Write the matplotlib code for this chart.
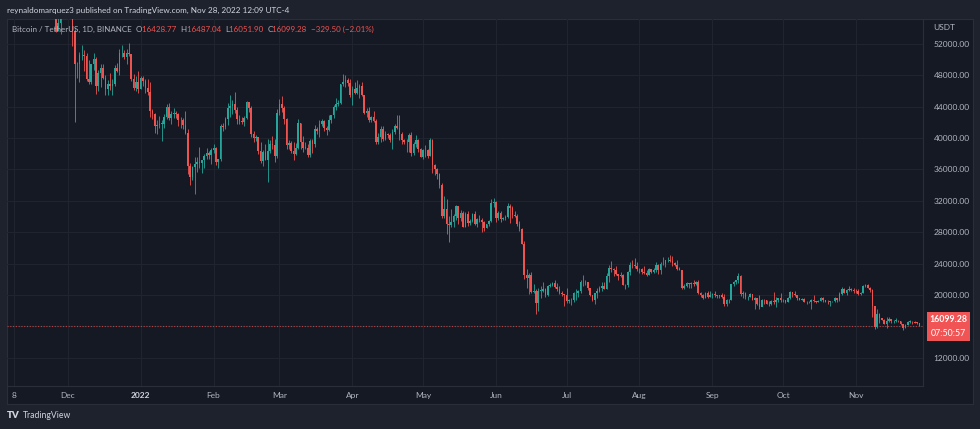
import matplotlib
matplotlib.use("Agg")
import matplotlib.pyplot as plt
import matplotlib.dates as mdates
import numpy as np
import pandas as pd
from matplotlib.patches import Rectangle

# ---------------- data (BTC/USDT daily, Binance) ----------------
first_open = 61400

close_2021_11 = [61000, 61500, 63300, 67550, 66950, 64880, 64800, 64150, 64400, 65500, 63600, 60100, 60350, 56900, 58100, 59700, 58650, 56300, 57550, 57150, 58950, 53700, 54700, 57300, 57800, 56950]
high_2021_11 = [62600, 61900, 63300, 67800, 68500, 69000, 65600, 65000, 65000, 65950, 66300, 63650, 61000, 60900, 58350, 59850, 60000, 59250, 57900, 57900, 59400, 59200, 55300, 57400, 58850, 59200]
low_2021_11 = [60700, 60700, 61400, 63300, 66300, 62800, 64100, 62300, 63400, 63600, 63400, 58600, 58600, 56500, 55600, 57400, 58500, 55600, 55300, 55950, 57000, 53500, 53600, 53300, 56700, 55900]

close_2021_12 = [57200, 56500, 53600, 49400, 49400, 50600, 50600, 50500, 47600, 47150, 49400, 50100, 46700, 48350, 48900, 47650, 46200, 46850, 46700, 46900, 48900, 48600, 50800, 50800, 50400, 50800, 50700, 47550, 46450, 47150, 46200]
high_2021_12 = [59100, 57400, 57600, 53900, 49700, 51000, 51900, 51200, 50800, 50000, 49500, 50800, 50300, 48700, 49500, 49450, 48000, 47350, 48300, 47550, 49300, 49600, 51400, 51850, 51200, 51300, 52100, 50700, 48150, 47900, 48550]
low_2021_12 = [56400, 55800, 51700, 42000, 47700, 47100, 50000, 48600, 47300, 46850, 46900, 48650, 45650, 46000, 46500, 47500, 45450, 45500, 46100, 45550, 46600, 48450, 48050, 50400, 50150, 49450, 50450, 47300, 46100, 46000, 45700]

close_2022_01 = [47700, 47300, 46450, 45850, 43450, 43100, 41550, 41700, 41850, 41850, 42750, 43950, 42600, 43100, 43200, 43100, 42250, 42350, 41700, 40700, 36450, 35050, 36280, 36700, 36950, 36850, 37200, 37700, 38150, 37900, 38500]
high_2022_01 = [47950, 47950, 47550, 47500, 47100, 43750, 43150, 42300, 42800, 42250, 43100, 44350, 44450, 43450, 43800, 43450, 43200, 42700, 42550, 43500, 41100, 36850, 36500, 37550, 37550, 38900, 37250, 38000, 38700, 38350, 38750]
low_2022_01 = [46200, 46650, 45700, 45500, 42650, 42450, 40600, 40500, 41250, 39650, 41300, 42500, 42300, 41750, 42600, 42600, 41550, 41250, 41150, 40550, 35450, 34000, 34600, 32900, 35700, 36250, 35500, 36200, 37350, 37300, 36650]

close_2022_02 = [38750, 36900, 37300, 41550, 41400, 42400, 43850, 44050, 44400, 43550, 42400, 42200, 42050, 42550, 44550, 43900, 40500, 40000, 40100, 38400, 37050, 38250, 37250, 38350, 39250, 39150, 37700, 43200]
high_2022_02 = [39250, 38900, 37400, 41750, 41950, 42650, 44500, 45500, 44800, 45850, 43950, 43000, 42750, 42850, 44750, 44600, 44150, 40950, 40450, 40150, 39500, 38450, 39300, 39850, 39700, 40300, 39900, 43750]
low_2022_02 = [38050, 36600, 36250, 37100, 40950, 41100, 41650, 42650, 43100, 43200, 41750, 41750, 41800, 41550, 42450, 43350, 40100, 39450, 39650, 38000, 36800, 36400, 37150, 34350, 38050, 38600, 37000, 37450]

close_2022_03 = [44400, 43900, 42450, 39150, 39400, 38400, 37990, 38750, 41950, 39450, 38750, 38800, 37800, 39650, 39300, 41150, 40950, 41750, 42200, 41300, 41000, 42350, 42900, 43950, 44350, 44500, 46850, 47150, 47450, 47050, 45550]
high_2022_03 = [44950, 45400, 44100, 42550, 39700, 39650, 39450, 39350, 42400, 41950, 40250, 39500, 39300, 39900, 39900, 41700, 41450, 42350, 42400, 42300, 41550, 43000, 43000, 44250, 45100, 44800, 46950, 48200, 48100, 47700, 47600]
low_2022_03 = [43000, 43350, 41850, 38650, 38600, 38100, 37150, 37850, 38650, 38550, 38250, 38650, 37600, 37550, 38100, 38900, 40500, 40150, 41550, 40950, 40450, 40900, 41900, 42550, 43600, 44100, 44400, 46600, 46550, 46600, 45200]

close_2022_04 = [46300, 45800, 46450, 46600, 45500, 43200, 43450, 42250, 42750, 42150, 39500, 40100, 41150, 39950, 40550, 40400, 39700, 40800, 41500, 41350, 40500, 39700, 39450, 39450, 40400, 38100, 39250, 39750, 38600, 37650]
high_2022_04 = [46700, 47200, 47450, 46900, 47200, 45500, 43900, 43950, 42800, 43400, 42400, 40700, 41550, 41500, 40900, 40700, 40600, 41100, 41750, 42950, 42950, 40800, 39950, 39950, 40600, 40800, 39450, 40350, 39950, 38800]
low_2022_04 = [44200, 45600, 45600, 45100, 45350, 43100, 42750, 42100, 42100, 42050, 39200, 39300, 39550, 39600, 39800, 40000, 39550, 38550, 40550, 41100, 39750, 39200, 39300, 38200, 38200, 37700, 37900, 38850, 38200, 37600]

close_2022_05 = [38450, 38500, 37700, 39700, 36550, 36000, 35450, 34050, 30100, 31000, 29100, 28950, 29300, 30100, 31300, 29850, 30450, 28700, 30300, 29200, 29450, 30300, 29100, 29650, 29550, 29250, 28600, 29000, 29450, 31700, 31800]
high_2022_05 = [38650, 39150, 38650, 40000, 39850, 36650, 36150, 35500, 34250, 32650, 32200, 30050, 30950, 30300, 31450, 31300, 30800, 30700, 30550, 30750, 29650, 30450, 30650, 29850, 30200, 29850, 29400, 29100, 29550, 32200, 32400]
low_2022_05 = [37400, 37650, 37500, 37700, 35600, 35250, 34750, 33700, 29750, 29750, 27800, 26700, 28700, 28650, 29500, 29100, 29450, 28650, 28700, 28750, 28950, 29250, 28900, 28650, 29300, 28000, 28200, 28550, 28850, 29250, 31200]

close_2022_06 = [29800, 30450, 29700, 29850, 29900, 31350, 31100, 30200, 30100, 29100, 28400, 26550, 22500, 22150, 22600, 20400, 20450, 19000, 20550, 20550, 20700, 19990, 21100, 21250, 21500, 21050, 20750, 20250, 20100, 19950]
high_2022_06 = [31950, 30650, 30700, 29950, 30200, 31750, 31550, 31350, 30700, 30350, 29450, 28550, 26900, 23350, 22800, 22950, 21350, 20800, 20850, 21100, 21700, 20900, 21250, 21500, 21600, 21850, 21550, 21200, 20450, 20150]
low_2022_06 = [29350, 29600, 29250, 29500, 29500, 29750, 29200, 29850, 29950, 28850, 28100, 26500, 22000, 20850, 20100, 20250, 20250, 17600, 17950, 19650, 20350, 19750, 19900, 21000, 21100, 20950, 20500, 20150, 19850, 18650]

close_2022_07 = [19250, 19300, 19300, 20200, 20200, 20550, 21600, 21600, 21600, 20850, 19950, 19300, 20200, 20550, 20850, 21200, 20800, 22450, 23400, 23250, 23150, 22700, 22450, 22600, 21300, 21250, 22950, 23850, 23800, 23650, 23300]
high_2022_07 = [20850, 19450, 19650, 20350, 20750, 20650, 21850, 22500, 21950, 21650, 20850, 20050, 20250, 20900, 21200, 21600, 21650, 22800, 23800, 24300, 23450, 23750, 22650, 22950, 22650, 21350, 23100, 24200, 24450, 24650, 24200]
low_2022_07 = [18950, 18950, 18750, 19050, 19300, 19750, 20250, 21200, 21300, 20650, 19850, 19250, 18900, 19650, 20400, 20500, 20750, 20750, 21600, 22900, 22400, 22550, 21950, 22250, 21250, 20700, 21050, 22600, 23450, 23400, 23050]

close_2022_08 = [23250, 22950, 22800, 22600, 23300, 22950, 23200, 23800, 23150, 23950, 23950, 24400, 24450, 24300, 24100, 23850, 23350, 23200, 20850, 21150, 21500, 21400, 21550, 21350, 21600, 20250, 20050, 19550, 20300, 19800, 20050]
high_2022_08 = [23500, 23450, 23650, 23200, 23450, 23350, 23400, 24250, 23950, 24200, 24900, 24450, 24900, 25050, 24950, 24250, 24450, 23600, 23200, 21400, 21700, 21500, 21700, 21900, 21800, 21900, 20350, 20150, 20400, 20550, 20500]
low_2022_08 = [22850, 22650, 22700, 22400, 22600, 22850, 22850, 22900, 22650, 22700, 23850, 23600, 24250, 24250, 23700, 23700, 23200, 23150, 20800, 20750, 21050, 20900, 20900, 21150, 21300, 20100, 19800, 19500, 19550, 19550, 19750]

close_2022_09 = [20150, 19950, 19850, 19990, 19800, 18800, 19300, 19320, 21350, 21650, 21850, 22400, 20150, 20250, 19700, 19800, 20100, 19400, 19550, 18900, 18500, 19400, 19300, 18900, 18800, 19200, 19100, 19400, 19600, 19400]
high_2022_09 = [20200, 20450, 20000, 20050, 20200, 20150, 19450, 19450, 21450, 21800, 21850, 22800, 22500, 20550, 20400, 19900, 20200, 20150, 19700, 19650, 19950, 19500, 19500, 19300, 19200, 19350, 20400, 19800, 19650, 20200]
low_2022_09 = [19600, 19750, 19650, 19650, 19650, 18650, 18550, 19000, 19300, 21100, 21350, 21550, 19850, 19650, 19500, 19350, 19750, 19350, 18250, 18750, 18150, 18550, 18800, 18850, 18650, 18700, 18800, 18500, 19100, 19150]

close_2022_10 = [19300, 19050, 19600, 20350, 20150, 19950, 19550, 19400, 19450, 19150, 19050, 19150, 19400, 19200, 19070, 19250, 19550, 19330, 19120, 19050, 19170, 19200, 19570, 19330, 20090, 20770, 20290, 20600, 20810, 20630, 20490]
high_2022_10 = [19500, 19400, 19700, 20450, 20350, 20450, 20050, 19600, 19550, 19550, 19250, 19250, 19500, 19950, 19250, 19400, 19700, 19700, 19350, 19350, 19250, 19250, 19700, 19600, 20400, 21000, 20850, 20750, 21100, 20950, 20850]
low_2022_10 = [19150, 18950, 19050, 19500, 19750, 19850, 19350, 19300, 19300, 19050, 18850, 18950, 18200, 19100, 18950, 19050, 19200, 19100, 19050, 18900, 18650, 19100, 19050, 19150, 19250, 20050, 20200, 20000, 20550, 20500, 20250]

close_2022_11 = [20480, 20150, 20210, 21150, 21300, 20900, 20600, 18540, 15880, 17590, 17070, 16810, 16330, 16620, 16900, 16660, 16690, 16700, 16630, 16280, 15780, 16230, 16600, 16600, 16520, 16460, 16428.77, 16099.28]
high_2022_11 = [20700, 20800, 20400, 21300, 21450, 21350, 21050, 20700, 18600, 18150, 17650, 17100, 16950, 17200, 17150, 16950, 16800, 17000, 16800, 16650, 16300, 16300, 16700, 16800, 16700, 16700, 16500, 16487.04]
low_2022_11 = [20250, 20050, 20050, 20200, 21050, 20850, 20400, 17150, 15600, 15800, 16400, 16750, 16300, 15800, 16550, 16400, 16400, 16550, 16550, 16200, 15500, 15750, 16150, 16450, 16300, 16400, 16350, 16051.90]

months = [
    ("2021-11-05", close_2021_11, high_2021_11, low_2021_11),
    ("2021-12-01", close_2021_12, high_2021_12, low_2021_12),
    ("2022-01-01", close_2022_01, high_2022_01, low_2022_01),
    ("2022-02-01", close_2022_02, high_2022_02, low_2022_02),
    ("2022-03-01", close_2022_03, high_2022_03, low_2022_03),
    ("2022-04-01", close_2022_04, high_2022_04, low_2022_04),
    ("2022-05-01", close_2022_05, high_2022_05, low_2022_05),
    ("2022-06-01", close_2022_06, high_2022_06, low_2022_06),
    ("2022-07-01", close_2022_07, high_2022_07, low_2022_07),
    ("2022-08-01", close_2022_08, high_2022_08, low_2022_08),
    ("2022-09-01", close_2022_09, high_2022_09, low_2022_09),
    ("2022-10-01", close_2022_10, high_2022_10, low_2022_10),
    ("2022-11-01", close_2022_11, high_2022_11, low_2022_11),
]

price_ticks = [12000, 16000, 20000, 24000, 28000, 32000, 36000, 40000, 44000, 48000, 52000]
time_tick_dates = ["2021-11-08", "2021-12-01", "2022-01-01", "2022-02-01", "2022-03-01", "2022-04-01",
                   "2022-05-01", "2022-06-01", "2022-07-01", "2022-08-01", "2022-09-01", "2022-10-01", "2022-11-01"]
time_tick_labels = ["8", "Dec", "2022", "Feb", "Mar", "Apr", "May", "Jun", "Jul", "Aug", "Sep", "Oct", "Nov"]

last_price = 16099.28
ohlc_text = [("O", "16428.77"), ("H", "16487.04"), ("L", "16051.90"), ("C", "16099.28")]
change_text = "\u2212329.50 (\u22122.01%)"

# ---------------- assemble ----------------
dates, closes, highs, lows = [], [], [], []
for start, c, h, l in months:
    n = min(len(c), len(h), len(l))
    d = pd.date_range(start, periods=n, freq="D")
    dates.extend(mdates.date2num(d.to_pydatetime()))
    closes.extend(c[:n]); highs.extend(h[:n]); lows.extend(l[:n])
dates = np.array(dates); closes = np.array(closes, float)
highs = np.array(highs, float); lows = np.array(lows, float)
opens = np.concatenate([[first_open], closes[:-1]])

UP = "#26a69a"; DOWN = "#ef5350"
up = closes >= opens
cols = np.where(up, UP, DOWN)

# ---------------- figure ----------------
W, H = 980, 429
plt.rcParams["font.family"] = ["Lato", "DejaVu Sans"]
fig = plt.figure(figsize=(W / 100, H / 100), dpi=100, facecolor="#1e222d")

def fx(px): return px / W
def fy(py): return 1 - py / H

PANE = "#151924"
BORDER = "#2a2e39"
FS = 6.0
# pane background incl. axes strips
bg = fig.add_axes([fx(7), fy(404), fx(973 - 7), (404 - 19) / H])
bg.set_facecolor(PANE)
bg.set_xticks([]); bg.set_yticks([])
for s in bg.spines.values():
    s.set_color(BORDER); s.set_linewidth(0.8)
bg.set_zorder(0)

ax = fig.add_axes([fx(7), fy(386), fx(923 - 7), (386 - 19) / H])
ax.set_facecolor("none")
ax.set_zorder(1)
for s in ax.spines.values():
    s.set_visible(False)
ax.spines["right"].set_visible(True); ax.spines["right"].set_color(BORDER); ax.spines["right"].set_linewidth(0.8)
ax.spines["bottom"].set_visible(True); ax.spines["bottom"].set_color(BORDER); ax.spines["bottom"].set_linewidth(0.8)

dec1 = mdates.date2num(pd.Timestamp("2021-12-01").to_pydatetime())
nov1 = mdates.date2num(pd.Timestamp("2022-11-01").to_pydatetime())
ax.set_xlim(dec1 - 25.8, nov1 + 28.5)
ax.set_ylim(8391, 55188)

# wicks and bodies
ax.vlines(dates, lows, highs, colors=cols, linewidth=0.6, zorder=2)
body_h = np.maximum(np.abs(closes - opens), 60)
ax.bar(dates, body_h, bottom=np.minimum(opens, closes), width=0.68, color=cols, linewidth=0, zorder=3)

# grid
GRID = "#20242f"
tnums = [mdates.date2num(pd.Timestamp(t).to_pydatetime()) for t in time_tick_dates]
ax.set_xticks(tnums)
ax.set_xticklabels(time_tick_labels)
ax.set_yticks(price_ticks)
# the 16000 label is hidden behind the last-price box in the reference
ax.set_yticklabels(["" if p == 16000 else f"{p:.2f}" for p in price_ticks])
ax.yaxis.tick_right()
ax.grid(True, color=GRID, linewidth=0.8, zorder=0)
ax.set_axisbelow(True)
ax.tick_params(axis="both", length=0, colors="#b2b5be", labelsize=FS)
ax.tick_params(axis="y", pad=7.5)
ax.tick_params(axis="x", pad=4.5)
for lab in ax.get_xticklabels():
    if lab.get_text() == "2022":
        lab.set_color("#d1d4dc"); lab.set_fontweight("bold")

# last price line
ax.axhline(last_price, color=DOWN, linewidth=0.8, linestyle=(0, (1, 1.5)), alpha=0.7, zorder=1.5)

# price label box
fig.patches.append(Rectangle((fx(927), fy(341)), fx(970 - 927), (341 - 312) / H,
                             transform=fig.transFigure, facecolor="#f05454", edgecolor="none", zorder=5))
fig.text(fx(948.5), fy(319.5), f"{last_price:.2f}", color="white", fontsize=6.3, fontweight="bold",
         ha="center", va="center", zorder=6)
fig.text(fx(948.5), fy(333.5), "07:50:57", color="white", fontsize=6.3, ha="center", va="center", zorder=6)
fig.text(fx(933), fy(27.5), "USDT", color="#b2b5be", fontsize=FS, ha="left", va="center")

# header
fig.text(fx(7), fy(10), "reynaldomarquez3 published on TradingView.com, Nov 28, 2022 12:09 UTC-4",
         color="#d1d4dc", fontsize=5.9, ha="left", va="center")

renderer = fig.canvas.get_renderer()
def seq(x, y, parts, fs=5.8):
    for s, c in parts:
        t = fig.text(fx(x), fy(y), s, color=c, fontsize=fs, ha="left", va="center", zorder=7)
        x += t.get_window_extent(renderer).width
    return x

GRAY = "#b2b5be"
parts = [("Bitcoin / TetherUS, 1D, BINANCE  ", GRAY)]
for k, v in ohlc_text:
    parts.append((k, GRAY)); parts.append((v + "  ", DOWN))
parts.append((change_text, DOWN))
seq(12, 29, parts)

# TradingView logo
fig.text(fx(7), fy(416), "TV", color="#d1d4dc", fontsize=7, fontweight="heavy", ha="left", va="center")
fig.text(fx(23), fy(416), "TradingView", color="#d1d4dc", fontsize=6.2, ha="left", va="center")

fig.savefig("out.png", dpi=100, facecolor=fig.get_facecolor())
